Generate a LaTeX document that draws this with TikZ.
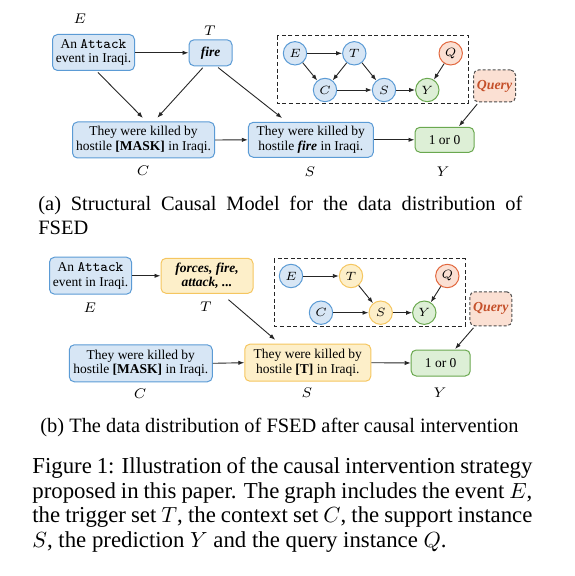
\documentclass[tikz,border=0pt]{standalone}
\usepackage{fontspec}
\setmainfont{Liberation Serif}
\usetikzlibrary{arrows.meta,calc}
\definecolor{bfill}{HTML}{D7E6F5}
\definecolor{bdraw}{HTML}{5B9BD5}
\definecolor{ofill}{HTML}{FDEFC9}
\definecolor{odraw}{HTML}{F5C660}
\definecolor{gfill}{HTML}{DDEFD6}
\definecolor{gdraw}{HTML}{6AA84F}
\definecolor{rfill}{HTML}{FBE0D3}
\definecolor{rdraw}{HTML}{E2683F}
\definecolor{qtext}{HTML}{C5502A}
\begin{document}
\begin{tikzpicture}[x=0.5pt,y=-0.5pt,
  box/.style={draw,rounded corners=2.5pt,line width=0.5pt,inner sep=0pt,align=center,font=\fontsize{6.75}{7.3}\selectfont},
  bbox/.style={box,fill=bfill,draw=bdraw},
  obox/.style={box,fill=ofill,draw=odraw},
  gbox/.style={box,fill=gfill,draw=gdraw},
  qbox/.style={box,fill=rfill,draw=black!70,dash pattern=on 1.5pt off 1pt,text=qtext,font=\fontsize{6.9}{7.5}\selectfont\bfseries\itshape},
  lab/.style={inner sep=0pt,font=\fontsize{7.2}{8}\selectfont},
  circ/.style={circle,draw,line width=0.5pt,minimum size=11.7pt,inner sep=0pt,font=\fontsize{5.6}{6}\selectfont},
  bc/.style={circ,fill=bfill,draw=bdraw},
  oc/.style={circ,fill=ofill,draw=odraw},
  gc/.style={circ,fill=gfill,draw=gdraw},
  rc/.style={circ,fill=rfill,draw=rdraw},
  arr/.style={-{Latex[length=3pt,width=2.2pt]},line width=0.45pt,draw=black!85},
  dbox/.style={draw=black!85,line width=0.5pt,dash pattern=on 2pt off 1.3pt},
  captext/.style={inner sep=0pt,align=justify,anchor=north west}
]
\useasboundingbox (0,0) rectangle (574,576);
% ---------------- (a) ----------------
\node[bbox,minimum width=41pt,minimum height=18pt] (Ea) at (93.5,52.5) {An {\fontsize{7.2}{7.3}\selectfont\texttt{Attack}}\\event in Iraqi.};
\node[bbox,minimum width=21.5pt,minimum height=13pt] (Ta) at (210.5,52.8) {\textbf{\textit{fire}}};
\node[bbox,minimum width=71pt,minimum height=18pt] (Ca) at (143.5,140) {They were killed by\\hostile \textbf{[MASK]} in Iraqi.};
\node[bbox,minimum width=62.5pt,minimum height=17.5pt] (Sa) at (310.8,139.8) {They were killed by\\hostile \textbf{\textit{fire}} in Iraqi.};
\node[gbox,minimum width=29.5pt,minimum height=12.5pt] (Ya) at (444.5,139.8) {1 or 0};
\node[qbox,minimum width=21pt,minimum height=16pt] (Qa) at (494.5,86) {Query};
\node[lab] (lEa) at (80,19) {$E$};
\node[lab] (lTa) at (210,31) {$T$};
\node[lab] (lCa) at (143,171) {$C$};
\node[lab] (lSa) at (310,171.7) {$S$};
\node[lab] (lYa) at (443,171.7) {$Y$};
\draw[arr] (Ea.east |- Ta.west) -- (Ta.west);
\draw[arr,shorten <=1pt,shorten >=2.5pt] ([xshift=1.5pt]Ea.south) -- ([xshift=1.5pt]Ca.north);
\draw[arr,shorten <=1pt,shorten >=2.5pt] ([xshift=-3.2pt]Ta.south) -- ([xshift=5.2pt]Ca.north);
\draw[arr,shorten <=1pt,shorten >=3pt] ([xshift=3pt]Ta.south) -- ([xshift=-12pt]Sa.north);
\draw[arr] (Ca.east) -- (Sa.west);
\draw[arr] (Sa.east) -- (Ya.west);
\draw[arr,shorten <=1pt,shorten >=0.3pt] ([xshift=-8pt]Qa.south) -- ([xshift=7pt]Ya.north);
\draw[dbox] (277.3,35.7) rectangle (468,103.3);
\node[bc] (cEa) at (295,53.3) {$E$};
\node[bc] (cTa) at (354.3,53.3) {$T$};
\node[rc] (cQa) at (450.7,53.3) {$Q$};
\node[bc] (cCa) at (325,90) {$C$};
\node[bc] (cSa) at (384,90) {$S$};
\node[gc] (cYa) at (427.3,90) {$Y$};
\draw[arr] (cEa) -- (cTa);
\draw[arr] (cEa) -- (cCa);
\draw[arr] (cTa) -- (cCa);
\draw[arr] (cTa) -- (cSa);
\draw[arr] (cCa) -- (cSa);
\draw[arr] (cSa) -- (cYa);
\draw[arr] (cQa) -- (cYa);
\node[captext,text width=242pt,font=\fontsize{10.2}{12}\selectfont] (capa) at (38,196) {(a) Structural Causal Model for the data distribution of\linebreak FSED};
% ---------------- (b) ----------------
\node[bbox,minimum width=41pt,minimum height=18.5pt] (Eb) at (90.5,275.7) {An {\fontsize{7.2}{7.3}\selectfont\texttt{Attack}}\\event in Iraqi.};
\node[obox,minimum width=46pt,minimum height=17.5pt] (Tb) at (207,275.8) {\textbf{\textit{forces, fire,}}\\\textbf{\textit{attack, ...}}};
\node[bbox,minimum width=71.5pt,minimum height=18.5pt] (Cb) at (140.8,363.3) {They were killed by\\hostile \textbf{[MASK]} in Iraqi.};
\node[obox,minimum width=63pt,minimum height=18.5pt] (Sb) at (307.8,362.7) {They were killed by\\hostile \textbf{[T]} in Iraqi.};
\node[gbox,minimum width=29.5pt,minimum height=13pt] (Yb) at (440.7,363) {1 or 0};
\node[qbox,minimum width=21pt,minimum height=17pt] (Qb) at (490.8,308.8) {Query};
\node[lab] (lEb) at (90,308) {$E$};
\node[lab] (lTb) at (206,307) {$T$};
\node[lab] (lCb) at (140,394) {$C$};
\node[lab] (lSb) at (307,393) {$S$};
\node[lab] (lYb) at (440,393) {$Y$};
\draw[arr] (Eb.east |- Tb.west) -- (Tb.west);
\draw[arr,shorten <=4.5pt,shorten >=3pt] ([xshift=7.3pt]Tb.south) -- ([xshift=-14pt]Sb.north);
\draw[arr] (Cb.east) -- (Sb.west);
\draw[arr] (Sb.east) -- (Yb.west);
\draw[arr,shorten <=1pt,shorten >=0.3pt] ([xshift=-8pt]Qb.south) -- ([xshift=7pt]Yb.north);
\draw[dbox] (274.3,259) rectangle (465,326);
\node[bc] (cEb) at (291,276) {$E$};
\node[oc] (cTb) at (351,276) {$T$};
\node[rc] (cQb) at (447.3,276) {$Q$};
\node[bc] (cCb) at (321,312.7) {$C$};
\node[oc] (cSb) at (380.7,312.7) {$S$};
\node[gc] (cYb) at (424.3,312.7) {$Y$};
\draw[arr] (cEb) -- (cTb);
\draw[arr] (cTb) -- (cSb);
\draw[arr] (cCb) -- (cSb);
\draw[arr] (cSb) -- (cYb);
\draw[arr] (cQb) -- (cYb);
\node[inner sep=0pt,font=\fontsize{10.2}{12}\selectfont] (capb) at (279.5,427) {(b) The data distribution of FSED after causal intervention};
% ---------------- main caption ----------------
\node[captext,text width=250pt,font=\fontsize{11.4}{12.3}\selectfont] (capm) at (32,457) {Figure 1: Illustration of the causal intervention strategy proposed in this paper. The graph includes the event $E$, the trigger set $T$, the context set $C$, the support instance $S$, the prediction $Y$ and the query instance $Q$.};
\end{tikzpicture}
\end{document}
